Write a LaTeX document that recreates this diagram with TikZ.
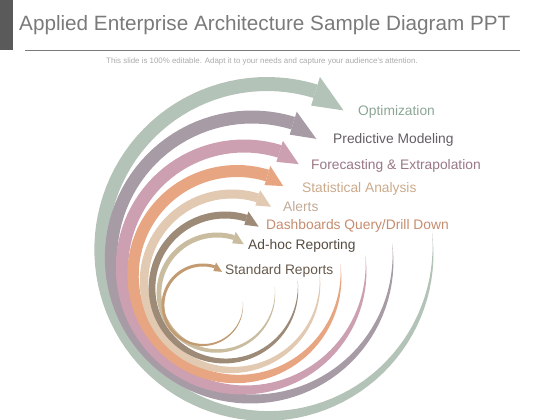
\documentclass[tikz,border=0pt]{standalone}
\usepackage{fontspec}
\setmainfont{Liberation Sans}
\definecolor{sage}{HTML}{B4C3B7}
\definecolor{mauve}{HTML}{A79BA6}
\definecolor{rose}{HTML}{CC9FB1}
\definecolor{peach}{HTML}{E8A581}
\definecolor{beige}{HTML}{E2C9B2}
\definecolor{umber}{HTML}{9D8A77}
\definecolor{khaki}{HTML}{C9BC9F}
\definecolor{tan}{HTML}{C29B72}
\definecolor{barclr}{HTML}{5A5A5A}
\definecolor{titleclr}{HTML}{7A7A7A}
\definecolor{subclr}{HTML}{ABABAB}
\definecolor{optclr}{HTML}{8CA695}

\begin{document}
\begin{tikzpicture}[x=1pt, y=-1pt,
  lbl/.style={anchor=west, inner sep=0pt, font=\fontsize{13.8}{16}\selectfont}]
\useasboundingbox (0,0) rectangle (560,420);

% header
\fill[barclr] (0,0) rectangle (13,50);
\node[anchor=west, inner sep=0pt, text=titleclr, font=\fontsize{20.7}{24}\selectfont] (title) at (19,25) {Applied Enterprise Architecture Sample Diagram PPT};
\coordinate (rulel) at (25,50);
\coordinate (ruler) at (520,50);
\draw[titleclr, line width=0.8pt] (rulel) -- (ruler);
\node[inner sep=0pt, text=subclr, font=\fontsize{7.9}{9}\selectfont] (sub) at (262,61) {This slide is 100\% editable. Adapt it to your needs and capture your audience's attention.};

% spiral arrows, outer first
\foreach \cx/\cy/\rr/\ww/\hw/\hl/\col in {267/250/166/14/15/34/sage, 252/258/141/13/12/28/mauve, 244/268/122/13/11/23/rose, 237/275/104/12/10/19/peach, 232/282/88/9/8/16/beige, 225/288/73/7/7/15/umber, 217/293/58/5/6/12/khaki, 203/305/40/3/4.5/9/tan}{
  \pgfmathsetmacro\tipa{287+57.3*\hl/\rr}
  \pgfmathsetmacro\ro{\rr+\hw}
  \pgfmathsetmacro\ri{\rr-\hw}
  \pgfmathsetmacro\rt{\rr-0.2*\hl}
  \fill[\col] plot[domain=-6:287, samples=90, variable=\t]
      ({\cx+(\rr+0.5*\ww*(1-((287-\t)/293)^3))*cos(\t)}, {\cy+(\rr+0.5*\ww*(1-((287-\t)/293)^3))*sin(\t)})
    -- plot[domain=287:-6, samples=90, variable=\t]
      ({\cx+(\rr-0.5*\ww*(1-((287-\t)/293)^3))*cos(\t)}, {\cy+(\rr-0.5*\ww*(1-((287-\t)/293)^3))*sin(\t)})
    -- cycle;
  \fill[\col] ([shift={(\cx,\cy)}]287:\ro) -- ([shift={(\cx,\cy)}]287:\ri) -- ([shift={(\cx,\cy)}]\tipa:\rt) -- cycle;
}

% labels
\node[lbl, text=optclr] (optim) at (358,112) {Optimization};
\node[lbl, text=mauve!60!black] (predict) at (333,140) {Predictive Modeling};
\node[lbl, text=rose!75!black] (forecast) at (311,166) {Forecasting \& Extrapolation};
\node[lbl, text=peach!40!khaki!95!black] (stats) at (302,189) {Statistical Analysis};
\node[lbl, text=beige!85!black] (alerts) at (283,207) {Alerts};
\node[lbl, text=peach!85!black] (dash) at (266,226) {Dashboards Query/Drill Down};
\node[lbl, text=umber!55!black] (adhoc) at (248,246) {Ad-hoc Reporting};
\node[lbl, text=umber!65!black] (stdrep) at (225,271) {Standard Reports};
\end{tikzpicture}
\end{document}
